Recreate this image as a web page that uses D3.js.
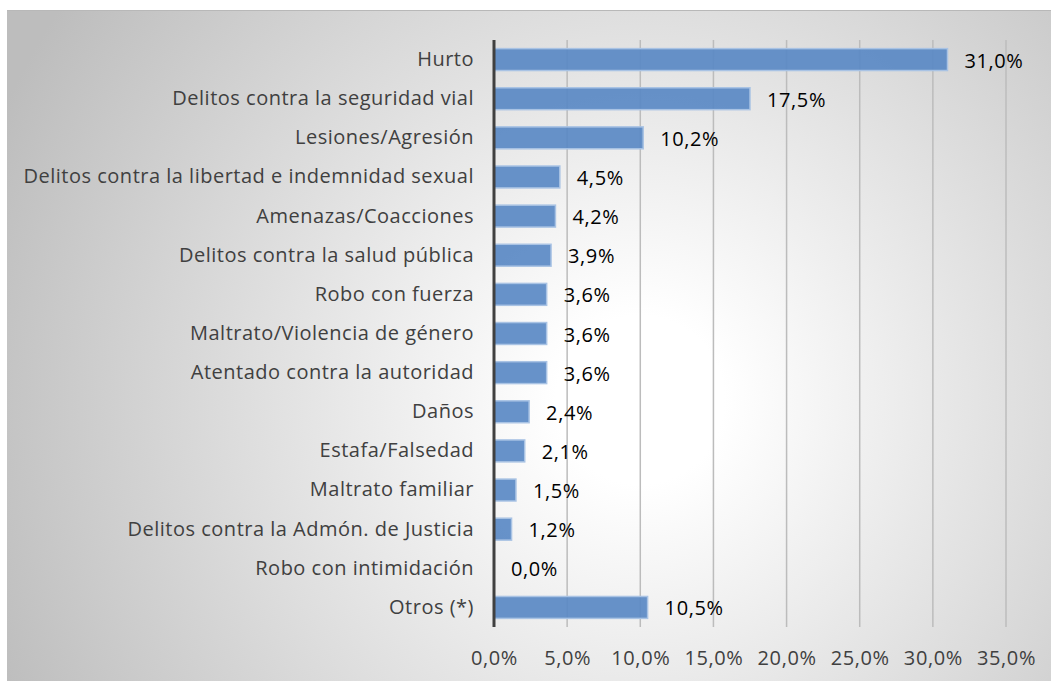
<!DOCTYPE html>
<html lang="es">
<head>
<meta charset="utf-8">
<title>Delitos</title>
<script src="https://cdn.jsdelivr.net/npm/d3@7"></script>
<style>
  body { margin: 0; background: #fff; }
  text { font-family: "Open Sans", sans-serif; }
</style>
</head>
<body>
<script>
// datos
var categories = ["Hurto", "Delitos contra la seguridad vial", "Lesiones/Agresión",
  "Delitos contra la libertad e indemnidad sexual", "Amenazas/Coacciones",
  "Delitos contra la salud pública", "Robo con fuerza", "Maltrato/Violencia de género",
  "Atentado contra la autoridad", "Daños", "Estafa/Falsedad", "Maltrato familiar",
  "Delitos contra la Admón. de Justicia", "Robo con intimidación", "Otros (*)"];
var values = [31.0, 17.5, 10.2, 4.5, 4.2, 3.9, 3.6, 3.6, 3.6, 2.4, 2.1, 1.5, 1.2, 0.0, 10.5];
var ticks = [0, 5, 10, 15, 20, 25, 30, 35];

var w = 1051, h = 681;
var fmt = function(v) { return v.toFixed(1).replace(".", ",") + "%"; };

var svg = d3.select("body").append("svg")
  .attr("width", w).attr("height", h);

var defs = svg.append("defs");
var grad = defs.append("radialGradient")
  .attr("id", "bg")
  .attr("gradientUnits", "userSpaceOnUse")
  .attr("cx", 640).attr("cy", 400).attr("r", 700);
grad.append("stop").attr("offset", "0.12").attr("stop-color", "#ffffff");
grad.append("stop").attr("offset", "1").attr("stop-color", "#bdbdbd");

svg.append("rect")
  .attr("x", 7).attr("y", 10)
  .attr("width", w - 7).attr("height", h - 10)
  .attr("fill", "url(#bg)");
svg.append("line")
  .attr("x1", 7).attr("x2", w).attr("y1", 10.5).attr("y2", 10.5)
  .attr("stroke", "#b8b8b8");

var x = d3.scaleLinear().domain([0, 35]).range([494, 1006]);
var y = d3.scaleBand().domain(categories).range([40, 627]).paddingInner(0.44).paddingOuter(0.22);

// gridlines
svg.append("g")
  .selectAll("line")
  .data(ticks.slice(1))
  .enter()
  .append("line")
  .attr("x1", function(d) { return x(d); })
  .attr("x2", function(d) { return x(d); })
  .attr("y1", 40).attr("y2", 627)
  .attr("stroke", "#bcbcbc")
  .attr("stroke-width", 1.5);

// bars
svg.append("g")
  .selectAll("rect")
  .data(values)
  .enter()
  .append("rect")
  .attr("x", x(0))
  .attr("y", function(d, i) { return y(categories[i]); })
  .attr("width", function(d) { return x(d) - x(0); })
  .attr("height", y.bandwidth())
  .attr("fill", "#5a89c4")
  .attr("fill-opacity", 0.92)
  .attr("stroke", "#a9c3e4")
  .attr("stroke-width", 1.5);

// value labels
svg.append("g")
  .selectAll("text")
  .data(values)
  .enter()
  .append("text")
  .attr("x", function(d) { return x(d) + 17; })
  .attr("y", function(d, i) { return y(categories[i]) + y.bandwidth() / 2 + 1; })
  .attr("dy", "0.35em")
  .attr("font-size", 20)
  .attr("letter-spacing", 0.6)
  .attr("fill", "#000")
  .text(fmt);

// category axis
var yAxis = svg.append("g")
  .attr("transform", "translate(" + x(0) + ",0)")
  .call(d3.axisLeft(y).tickSize(0).tickPadding(20));
yAxis.select(".domain").remove();
yAxis.selectAll("text")
  .attr("font-size", 20)
  .attr("letter-spacing", 0.5)
  .attr("font-family", "Open Sans, sans-serif")
  .attr("fill", "#404040");
svg.append("line")
  .attr("x1", x(0)).attr("x2", x(0))
  .attr("y1", 40).attr("y2", 627)
  .attr("stroke", "#404040")
  .attr("stroke-width", 3);

// value axis
var xAxis = svg.append("g")
  .attr("transform", "translate(0,627)")
  .call(d3.axisBottom(x).tickValues(ticks).tickSize(0).tickPadding(24)
    .tickFormat(function(d) { return fmt(d); }));
xAxis.select(".domain").remove();
xAxis.selectAll("text")
  .attr("font-size", 20)
  .attr("letter-spacing", 0.6)
  .attr("font-family", "Open Sans, sans-serif")
  .attr("fill", "#404040");
</script>
</body>
</html>
